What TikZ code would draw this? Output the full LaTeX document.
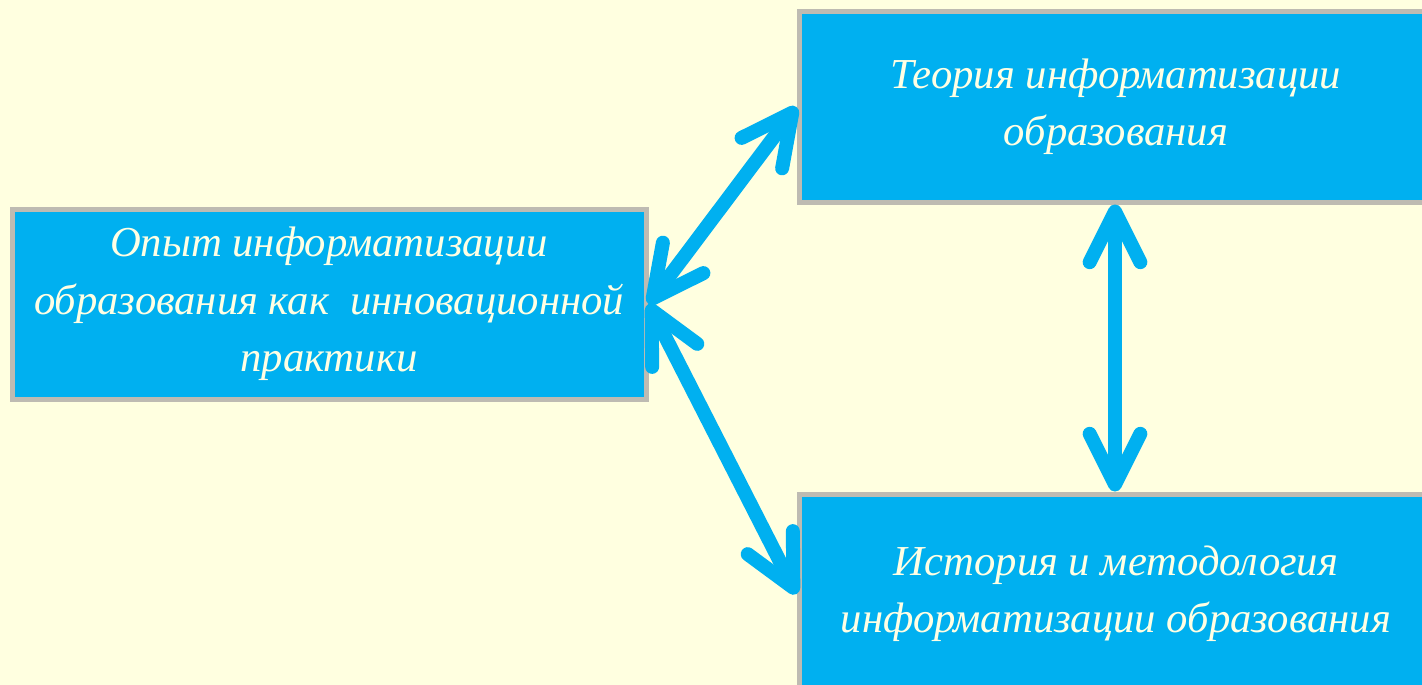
\documentclass[tikz,border=0pt]{standalone}
\usepackage{fontspec}
\setmainfont{Liberation Serif}
\usetikzlibrary{arrows.meta}
\definecolor{bg}{RGB}{255,255,224}
\definecolor{boxfill}{RGB}{0,176,240}
\definecolor{boxline}{RGB}{190,187,178}
\definecolor{txt}{RGB}{255,255,228}
\tikzset{
  blk/.style={draw=boxline, line width=3.75pt, fill=boxfill, minimum width=475.5pt, minimum height=142.5pt,
    text=txt, align=center, inner sep=0pt, font=\itshape\fontsize{32}{43}\selectfont},
  link/.style={draw=boxfill, line width=10.5pt, {Straight Barb[length=38pt,width=38pt,round]}-{Straight Barb[length=38pt,width=38pt,round]}}
}
\begin{document}
\begin{tikzpicture}[x=0.75pt,y=-0.75pt]
\fill[bg] (0,0) rectangle (1422,685);
\useasboundingbox (0,0) rectangle (1422,685);
\node[blk] (left) at (329,304) {Опыт информатизации\\образования как\ \ инновационной\\практики};
\node[blk] (top) at (1116,107) {Теория информатизации\\образования};
\node[blk, minimum height=150pt] (bot) at (1116,594) {История и методология\\информатизации образования};
\draw[link] (left.east) -- (top.west);
\draw[link] (left.east) -- (bot.west);
\draw[link] (top.south -| 1115,0) -- (bot.north -| 1115,0);
\end{tikzpicture}
\end{document}
